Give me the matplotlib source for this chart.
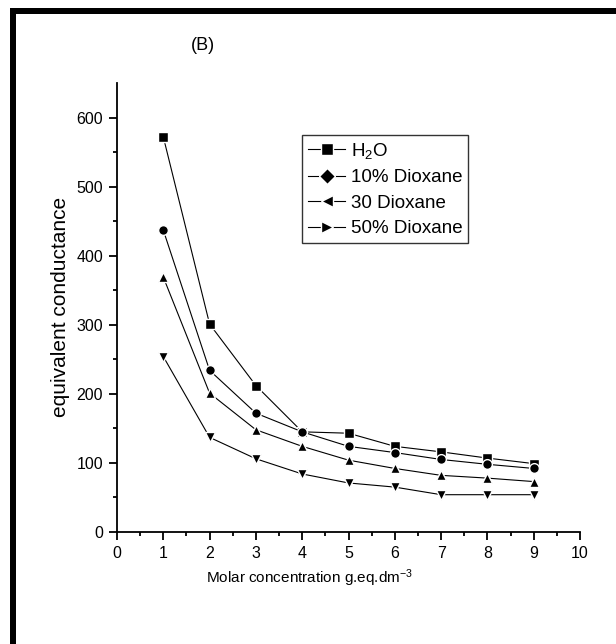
import matplotlib
matplotlib.use("Agg")
import matplotlib.pyplot as plt
from matplotlib.lines import Line2D
from matplotlib.patches import Rectangle
from matplotlib.ticker import MultipleLocator

plt.rcParams['font.family'] = ['Liberation Sans', 'DejaVu Sans']
plt.rcParams['mathtext.fontset'] = 'custom'
plt.rcParams['mathtext.rm'] = 'Liberation Sans'
plt.rcParams['mathtext.it'] = 'Liberation Sans'

# data
conc = [1, 2, 3, 4, 5, 6, 7, 8, 9]
h2o = [572, 301, 212, 145, 143, 124, 116, 107, 99]
dioxane10 = [437, 234, 172, 145, 124, 115, 105, 98, 92]
dioxane30 = [369, 201, 148, 124, 104, 92, 82, 78, 73]
dioxane50 = [254, 137, 106, 84, 71, 65, 54, 54, 54]

series = [h2o, dioxane10, dioxane30, dioxane50]
plot_markers = ['s', 'o', '^', 'v']
marker_sizes = [6.8, 7.0, 7.8, 7.8]
legend_markers = ['s', 'D', '<', '>']
labels = ['H$_2$O', '10% Dioxane', '30 Dioxane', '50% Dioxane']

fig = plt.figure(figsize=(6.16, 6.44), dpi=100)
ax = fig.add_axes([117 / 616, 1 - 532 / 644, 463 / 616, 449 / 644])

for vals, m, ms in zip(series, plot_markers, marker_sizes):
    ax.plot(conc, vals, color='black', lw=0.8, marker=m, markersize=ms,
            markerfacecolor='black', markeredgecolor='white', markeredgewidth=1.0)

ax.set_xlim(0, 10)
ax.set_ylim(0, 650)
ax.xaxis.set_major_locator(MultipleLocator(1))
ax.xaxis.set_minor_locator(MultipleLocator(0.5))
ax.set_yticks(range(0, 601, 100))
ax.set_yticks([v for v in range(50, 650, 100)], minor=True)

for side in ['top', 'right']:
    ax.spines[side].set_visible(False)
for side in ['left', 'bottom']:
    ax.spines[side].set_linewidth(1.3)

ax.tick_params(which='major', direction='out', length=6, width=1.3, labelsize=11.5, pad=4)
ax.tick_params(which='minor', direction='out', length=3, width=1.3)

fig.text(60 / 616, 1 - 307 / 644, 'equivalent conductance', fontsize=15,
         rotation=90, ha='center', va='center')
fig.text(310 / 616, 1 - 578 / 644, 'Molar concentration g.eq.dm$^{-3}$',
         fontsize=11, ha='center', va='center')
fig.text(203 / 616, 1 - 46 / 644, '(B)', fontsize=13, ha='center', va='center')

# legend uses different symbols than the curves (as in the original)
handles = [Line2D([], [], color='black', lw=0.8, marker=m, markersize=8.5,
                  markerfacecolor='black', markeredgecolor='white', markeredgewidth=1.0)
           for m in legend_markers]
leg = ax.legend(handles, labels, loc='upper left', bbox_to_anchor=(0.40, 0.884),
                borderaxespad=0, fancybox=False, fontsize=13.5, handlelength=2.0,
                handletextpad=0.3, labelspacing=0.45, borderpad=0.3)
leg.get_frame().set_edgecolor('black')
leg.get_frame().set_linewidth(1.0)

# thick page frame (left and top edges)
fig.add_artist(Rectangle((10 / 616, 0), 6 / 616, 1 - 8 / 644, transform=fig.transFigure,
                         color='black', lw=0))
fig.add_artist(Rectangle((10 / 616, 1 - 14 / 644), 1, 6 / 644, transform=fig.transFigure,
                         color='black', lw=0))

fig.savefig('out.png', dpi=100)
